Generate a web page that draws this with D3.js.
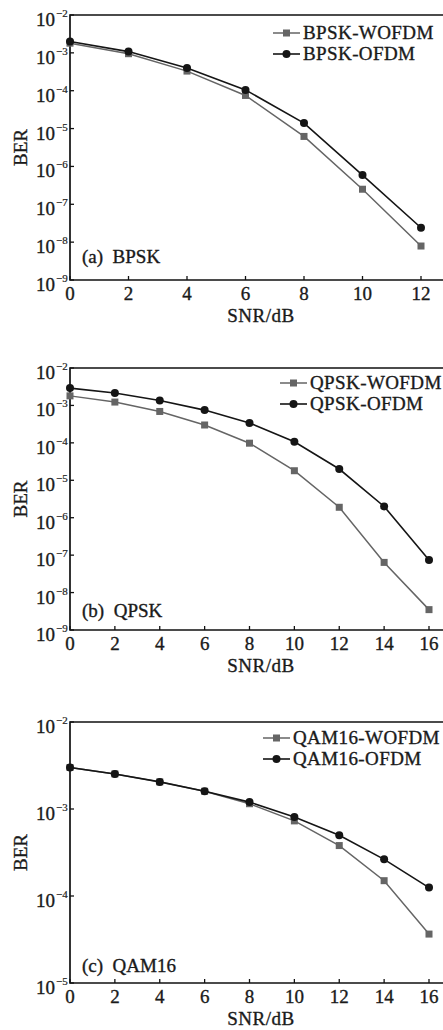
<!DOCTYPE html>
<html>
<head>
<meta charset="utf-8">
<script src="https://cdn.jsdelivr.net/npm/d3@7"></script>
<style>
body { margin: 0; background: #fff; }
svg { display: block; font-family: "Liberation Serif", "DejaVu Serif", serif; }
svg text { fill: #1a1a1a; stroke: #1a1a1a; stroke-width: 0.35px; }
</style>
</head>
<body>
<div id="my_dataviz"></div>
<script>
// x values (SNR in dB)
var snrA = [0, 2, 4, 6, 8, 10, 12];
var snrB = [0, 2, 4, 6, 8, 10, 12, 14, 16];

// BER values
var bpskWofdm = [1.8e-3, 9.5e-4, 3.3e-4, 7.5e-5, 6.2e-6, 2.5e-7, 7.9e-9];
var bpskOfdm = [2.0e-3, 1.08e-3, 4.0e-4, 1.05e-4, 1.4e-5, 5.9e-7, 2.4e-8];
var qpskWofdm = [1.8e-3, 1.23e-3, 6.9e-4, 3.0e-4, 9.8e-5, 1.8e-5, 1.9e-6, 6.4e-8, 3.5e-9];
var qpskOfdm = [2.9e-3, 2.14e-3, 1.36e-3, 7.5e-4, 3.4e-4, 1.07e-4, 2.0e-5, 2.0e-6, 7.4e-8];
var qamWofdm = [3.0e-3, 2.53e-3, 2.05e-3, 1.6e-3, 1.15e-3, 7.3e-4, 3.8e-4, 1.5e-4, 3.65e-5];
var qamOfdm = [3.0e-3, 2.53e-3, 2.05e-3, 1.6e-3, 1.2e-3, 8.1e-4, 5.0e-4, 2.64e-4, 1.25e-4];

// y tick exponents
var expA = [-2, -3, -4, -5, -6, -7, -8, -9];
var expC = [-2, -3, -4, -5];

var grey = "#656565", black = "#151515";

var svg = d3.select("#my_dataviz")
  .append("svg")
  .attr("width", 443)
  .attr("height", 1030);

function panel(opt) {
  var g = svg.append("g");

  var x = d3.scaleLinear().domain(opt.xDomain).range([70, opt.xEnd]);
  var y = d3.scaleLog().domain(opt.yDomain).range([opt.bottom, opt.top]);

  // frame (right side runs off the page)
  g.append("path")
    .attr("d", "M470," + opt.top + "H70V" + opt.bottom + "H470")
    .attr("fill", "none")
    .attr("stroke", "#111")
    .attr("stroke-width", 1.7);

  // x ticks (inside)
  var xt = g.selectAll(".xt").data(opt.xs).enter();
  xt.append("line")
    .attr("x1", function (d) { return x(d); })
    .attr("x2", function (d) { return x(d); })
    .attr("y1", opt.bottom)
    .attr("y2", opt.bottom - 4)
    .attr("stroke", "#111")
    .attr("stroke-width", 1.3);
  xt.append("text")
    .attr("x", function (d) { return x(d); })
    .attr("y", opt.bottom + 20)
    .attr("text-anchor", "middle")
    .style("font-size", "19px")
    .text(function (d) { return d; });

  // y ticks (inside) + 10^n labels
  var yt = g.selectAll(".yt").data(opt.exps).enter();
  yt.append("line")
    .attr("x1", 70)
    .attr("x2", 74)
    .attr("y1", function (d) { return y(Math.pow(10, d)); })
    .attr("y2", function (d) { return y(Math.pow(10, d)); })
    .attr("stroke", "#111")
    .attr("stroke-width", 1.3);
  yt.append("text")
    .attr("x", 55)
    .attr("y", function (d) { return y(Math.pow(10, d)) + 11; })
    .attr("text-anchor", "end")
    .style("font-size", "19px")
    .text("10");
  yt.append("text")
    .attr("x", 56)
    .attr("y", function (d) { return y(Math.pow(10, d)) + 2; })
    .style("font-size", "11px")
    .style("stroke-width", "0.2px")
    .text(function (d) { return "\u2212" + (-d); });

  // axis titles
  g.append("text")
    .attr("x", 261)
    .attr("y", opt.bottom + 42)
    .attr("text-anchor", "middle")
    .style("font-size", "19px")
    .style("letter-spacing", "0.5px")
    .text("SNR/dB");
  g.append("text")
    .attr("transform", "translate(27," + (opt.top + opt.bottom) / 2 + ") rotate(-90)")
    .attr("text-anchor", "middle")
    .style("font-size", "19px")
    .text("BER");

  // panel label
  g.append("text")
    .attr("x", 82)
    .attr("y", opt.labelY)
    .style("font-size", "19px")
    .attr("xml:space", "preserve")
    .text(opt.label);

  var line = d3.line()
    .x(function (d) { return x(d[0]); })
    .y(function (d) { return y(d[1]); });

  var sw = d3.zip(opt.xs, opt.wofdm);
  var so = d3.zip(opt.xs, opt.ofdm);

  g.append("path").datum(sw)
    .attr("fill", "none").attr("stroke", grey).attr("stroke-width", 1.5)
    .attr("d", line);
  g.selectAll(".sq").data(sw).enter().append("rect")
    .attr("x", function (d) { return x(d[0]) - 3.5; })
    .attr("y", function (d) { return y(d[1]) - 3.5; })
    .attr("width", 7).attr("height", 7)
    .attr("fill", grey);

  g.append("path").datum(so)
    .attr("fill", "none").attr("stroke", black).attr("stroke-width", 1.6)
    .attr("d", line);
  g.selectAll(".ci").data(so).enter().append("circle")
    .attr("cx", function (d) { return x(d[0]); })
    .attr("cy", function (d) { return y(d[1]); })
    .attr("r", 4)
    .attr("fill", black);

  // legend
  var lg = g.append("g").attr("transform", "translate(" + opt.legX + "," + opt.legY + ")");
  lg.append("line").attr("x1", 0).attr("x2", 27).attr("y1", 0).attr("y2", 0)
    .attr("stroke", grey).attr("stroke-width", 1.5);
  lg.append("rect").attr("x", 10).attr("y", -3.5).attr("width", 7).attr("height", 7).attr("fill", grey);
  lg.append("text").attr("x", 30).attr("y", 6).style("font-size", "19px")
    .style("letter-spacing", "0.4px").text(opt.names[0]);
  lg.append("line").attr("x1", 0).attr("x2", 27).attr("y1", 21).attr("y2", 21)
    .attr("stroke", black).attr("stroke-width", 1.6);
  lg.append("circle").attr("cx", 13.5).attr("cy", 21).attr("r", 4).attr("fill", black);
  lg.append("text").attr("x", 30).attr("y", 27).style("font-size", "19px")
    .style("letter-spacing", "0.4px").text(opt.names[1]);
}

panel({
  xs: snrA, xDomain: [0, 12], xEnd: 421,
  yDomain: [1e-9, 1e-2], top: 15, bottom: 280, exps: expA,
  wofdm: bpskWofdm, ofdm: bpskOfdm,
  names: ["BPSK-WOFDM", "BPSK-OFDM"], legX: 273, legY: 33,
  label: "(a)  BPSK", labelY: 263
});

panel({
  xs: snrB, xDomain: [0, 16], xEnd: 429,
  yDomain: [1e-9, 1e-2], top: 368, bottom: 630, exps: expA,
  wofdm: qpskWofdm, ofdm: qpskOfdm,
  names: ["QPSK-WOFDM", "QPSK-OFDM"], legX: 280, legY: 383,
  label: "(b)  QPSK", labelY: 617
});

panel({
  xs: snrB, xDomain: [0, 16], xEnd: 429,
  yDomain: [1e-5, 1e-2], top: 722, bottom: 983, exps: expC,
  wofdm: qamWofdm, ofdm: qamOfdm,
  names: ["QAM16-WOFDM", "QAM16-OFDM"], legX: 263, legY: 738,
  label: "(c)  QAM16", labelY: 972
});
</script>
</body>
</html>
